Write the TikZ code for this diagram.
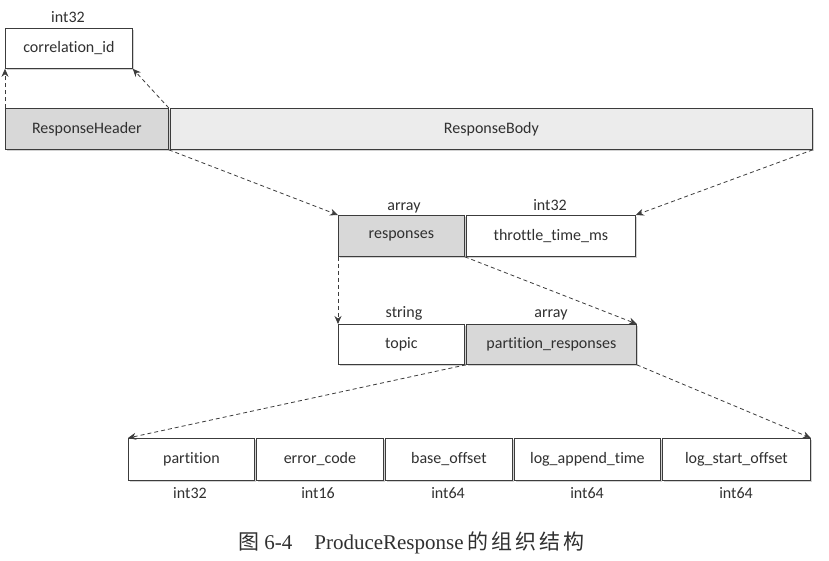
\documentclass[tikz,border=0pt]{standalone}
\usepackage{fontspec}
\setmainfont{Liberation Serif}
\newfontfamily\boxfont[RawFeature=-liga]{Carlito}
\newfontfamily\cjk{Noto Sans CJK SC}
\usetikzlibrary{arrows.meta,shadows}
\definecolor{edge}{HTML}{3C3C3C}
\definecolor{grayfill}{HTML}{D8D8D8}
\definecolor{lightfill}{HTML}{ECECEC}
\definecolor{txt}{HTML}{303030}
\begin{document}
\begin{tikzpicture}[x=1pt,y=-1pt,
  box/.style={draw=edge, line width=0.8pt, fill=white, anchor=north west, inner sep=0pt,
    font=\boxfont\fontsize{16}{19}\selectfont, text=txt,
    drop shadow={shadow xshift=1.2pt, shadow yshift=-1.2pt, opacity=0.35}},
  dark/.style={box, fill=grayfill},
  light/.style={box, fill=lightfill},
  lbl/.style={font=\boxfont\fontsize{16}{19}\selectfont, text=txt, inner sep=0pt, anchor=base},
  conn/.style={draw=edge, line width=0.8pt, dash pattern=on 4pt off 3pt, -{Stealth[length=8pt,width=7pt]}}]
\useasboundingbox[fill=white] (0,0) rectangle (829,560);

% top
\node[box, minimum width=127pt, minimum height=40pt] (corr) at (5,28) {correlation\_id};
\node[lbl] (corrT) at (68,22) {int32};
\node[dark, minimum width=163pt, minimum height=41pt] (rh) at (5,108) {ResponseHeader};
\node[light, minimum width=642pt, minimum height=41pt] (rb) at (170,108) {ResponseBody};

% middle 1
\node[dark, minimum width=126pt, minimum height=41pt] (resp) at (338,215) {responses};
\node[box, minimum width=169pt, minimum height=41pt] (thr) at (466,215) {throttle\_time\_ms};
\node[lbl] (respT) at (404,210) {array};
\node[lbl] (thrT) at (550,210) {int32};

% middle 2
\node[box, minimum width=126pt, minimum height=40pt] (topic) at (338,324) {topic};
\node[dark, minimum width=170pt, minimum height=40pt] (pr) at (466,324) {partition\_responses};
\node[lbl] (topicT) at (404,317) {string};
\node[lbl] (prT) at (551,317) {array};

% bottom row
\node[box, minimum width=126pt, minimum height=42pt] (part) at (128,438) {partition};
\node[box, minimum width=127pt, minimum height=42pt] (err) at (256,438) {error\_code};
\node[box, minimum width=127pt, minimum height=42pt] (base) at (385,438) {base\_offset};
\node[box, minimum width=146pt, minimum height=42pt] (lat) at (514,438) {log\_append\_time};
\node[box, minimum width=148pt, minimum height=42pt] (lso) at (662,438) {log\_start\_offset};
\node[lbl] (partT) at (190,498) {int32};
\node[lbl] (errT) at (318,498) {int16};
\node[lbl] (baseT) at (448,498) {int64};
\node[lbl] (latT) at (587,498) {int64};
\node[lbl] (lsoT) at (736,498) {int64};

% connectors
\draw[conn] (rh.north west) -- (corr.south west);
\draw[conn] (rh.north east) -- (corr.south east);
\draw[conn] (rh.south east) -- (resp.north west);
\draw[conn] (rb.south east) -- (thr.north east);
\draw[conn] (resp.south west) -- (topic.north west);
\draw[conn] (resp.south east) -- (pr.north east);
\draw[conn] (pr.south west) -- (part.north west);
\draw[conn] (pr.south east) -- (lso.north east);

% caption
\node[font=\fontsize{21}{25}\selectfont, inner sep=0pt, text=txt] (cap) at (411.5,543)
  {{\cjk 图}\hspace{5pt}6-4\hspace{22pt}ProduceResponse\hspace{4pt}{\cjk 的\hspace{3pt}组\hspace{3pt}织\hspace{3pt}结\hspace{3pt}构}};
\end{tikzpicture}
\end{document}
